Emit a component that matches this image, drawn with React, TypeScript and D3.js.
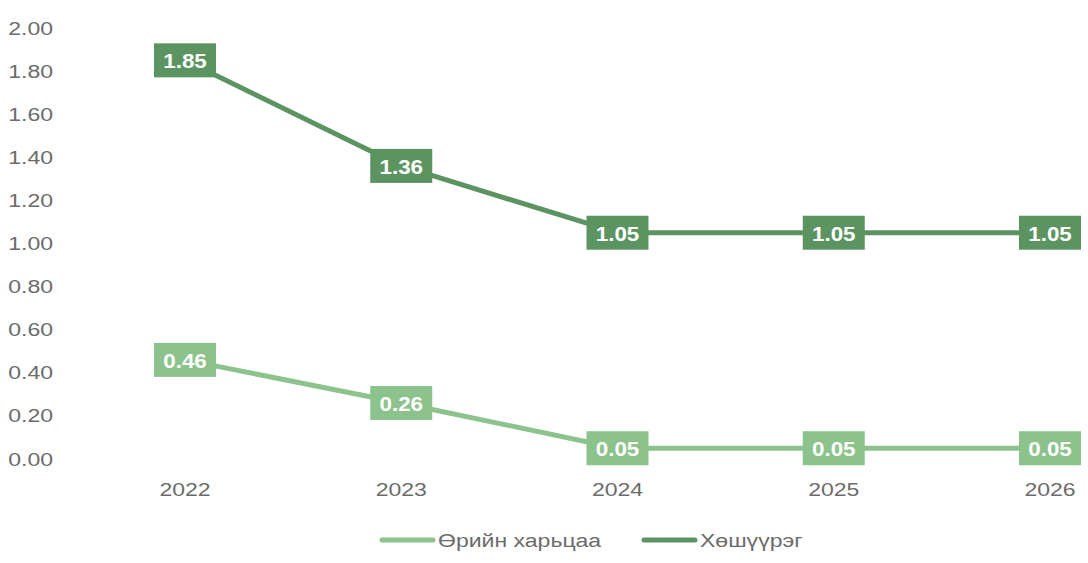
import React from "react";
import * as d3 from "d3";

const years = ["2022", "2023", "2024", "2025", "2026"];
const seriesNames = ["Өрийн харьцаа", "Хөшүүрэг"];
const debtRatio = [0.46, 0.26, 0.05, 0.05, 0.05];
const leverage = [1.85, 1.36, 1.05, 1.05, 1.05];
const yTicks = [0, 0.2, 0.4, 0.6, 0.8, 1.0, 1.2, 1.4, 1.6, 1.8, 2.0];
const colors = ["#8cc38c", "#5c9461"];

const W = 1088;
const H = 563;
const SX = 1.28;

function WideText(props: {
  x: number;
  y: number;
  sx: number;
  anchor?: "start" | "middle" | "end";
  size: number;
  fill: string;
  bold?: boolean;
  children: React.ReactNode;
}) {
  return (
    <text
      transform={`translate(${props.x},${props.y}) scale(${props.sx},1)`}
      textAnchor={props.anchor || "start"}
      dominantBaseline="central"
      fontSize={props.size}
      fontWeight={props.bold ? "bold" : "normal"}
      fill={props.fill}
    >
      {props.children}
    </text>
  );
}

export default function App() {
  const x = d3.scalePoint<string>().domain(years).range([185, 1050]);
  const y = d3.scaleLinear().domain([0, 2]).range([459, 28]);
  const line = d3
    .line<number>()
    .x((_, i) => x(years[i]) as number)
    .y((d) => y(d));
  const series = [debtRatio, leverage];
  const font = "Arial, 'Liberation Sans', sans-serif";
  const bw = 62;
  const bh = 34;
  const legendX = [380, 642];
  return (
    <svg
      width={W}
      height={H}
      style={{ position: "absolute", left: 0, top: 0, background: "#fff" }}
      fontFamily={font}
    >
      {yTicks.map((t) => (
        <WideText key={t} x={53} y={y(t)} sx={SX} anchor="end" size={18} fill="#6b6b6b">
          {t.toFixed(2)}
        </WideText>
      ))}
      {years.map((yr) => (
        <WideText key={yr} x={x(yr) as number} y={489} sx={SX} anchor="middle" size={18} fill="#6b6b6b">
          {yr}
        </WideText>
      ))}
      {series.map((s, si) => (
        <path
          key={si}
          d={line(s) || ""}
          fill="none"
          stroke={colors[si]}
          strokeWidth={5}
          strokeLinejoin="round"
        />
      ))}
      {series.map((s, si) =>
        s.map((v, i) => (
          <g key={`${si}-${i}`}>
            <rect
              x={(x(years[i]) as number) - bw / 2}
              y={y(v) - bh / 2}
              width={bw}
              height={bh}
              fill={colors[si]}
            />
            <WideText
              x={x(years[i]) as number}
              y={y(v) + 1}
              sx={1.12}
              anchor="middle"
              size={20}
              bold
              fill="#ffffff"
            >
              {v.toFixed(2)}
            </WideText>
          </g>
        ))
      )}
      {seriesNames.map((n, i) => {
        const lx = legendX[i];
        return (
          <g key={n}>
            <line
              x1={lx + 2}
              x2={lx + 53}
              y1={540}
              y2={540}
              stroke={colors[i]}
              strokeWidth={5}
              strokeLinecap="round"
            />
            <WideText x={lx + 58} y={540} sx={SX} size={18} fill="#6b6b6b">
              {n}
            </WideText>
          </g>
        );
      })}
    </svg>
  );
}
